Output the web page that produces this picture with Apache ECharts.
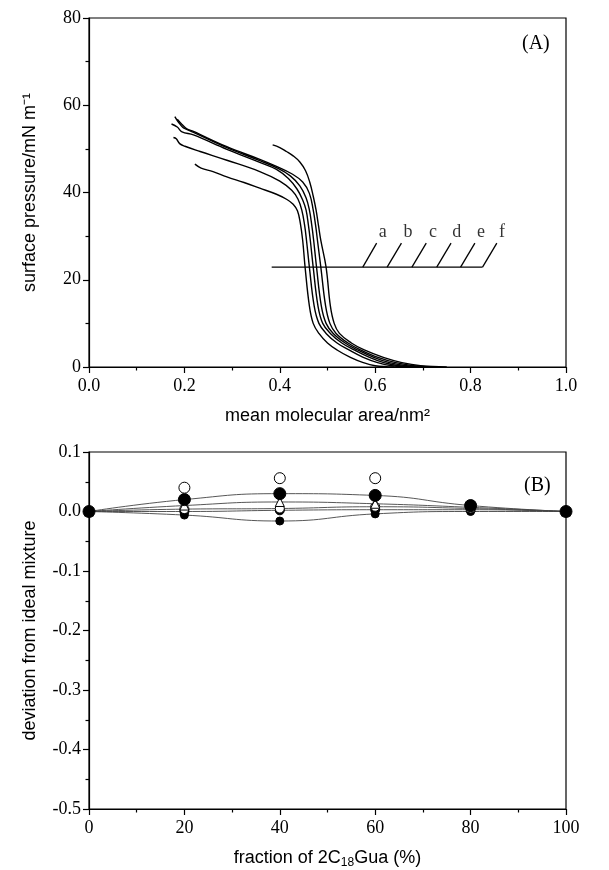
<!DOCTYPE html>
<html><head><meta charset="utf-8">
<script src="https://cdn.jsdelivr.net/npm/echarts@6/dist/echarts.min.js"></script>
<style>html,body{margin:0;padding:0;background:#fff}#c{width:609px;height:870px}</style>
</head><body><div id="c"></div>
<script>
// ---------- Panel A: isotherms (area nm^2, pressure mN/m) ----------
const curveA = [[0.222,46.5],[0.235,45.6],[0.26,44.8],[0.289,43.6],[0.325,42.3],[0.358,41.0],[0.393,39.6],[0.415,38.4],[0.428,37.3],[0.437,35.8],[0.443,33.0],[0.448,29.0],[0.453,22.9],[0.462,14],[0.470,10],[0.482,7.7],[0.500,5.5],[0.520,3.9],[0.548,2.2],[0.575,1.0],[0.60,0.3],[0.64,0]];
const curveB = [[0.177,52.6],[0.183,52.3],[0.190,51.2],[0.201,50.6],[0.233,49.4],[0.289,47.4],[0.358,44.8],[0.400,42.6],[0.425,40.5],[0.438,38.5],[0.446,36],[0.452,32.5],[0.456,29],[0.462,22.9],[0.472,14],[0.482,10],[0.497,7.7],[0.520,5.5],[0.545,3.9],[0.575,2.2],[0.605,1.0],[0.635,0.3],[0.68,0]];
const curveC = [[0.173,55.7],[0.185,55.0],[0.195,53.9],[0.219,53.2],[0.289,49.9],[0.358,46.9],[0.393,45.3],[0.418,43.2],[0.436,40.8],[0.448,38.3],[0.455,36],[0.460,32.5],[0.464,29],[0.470,22.9],[0.480,14],[0.490,10],[0.506,7.7],[0.530,5.5],[0.556,3.9],[0.588,2.2],[0.618,1.0],[0.65,0.3],[0.70,0]];
const curveD = [[0.180,57.4],[0.185,56.5],[0.192,55.5],[0.198,54.8],[0.219,53.8],[0.289,50.3],[0.358,47.3],[0.393,45.7],[0.422,43.8],[0.442,41.5],[0.455,38.8],[0.462,36],[0.467,32.5],[0.471,29],[0.477,22.9],[0.487,14],[0.497,10],[0.512,7.7],[0.537,5.5],[0.563,3.9],[0.597,2.2],[0.63,1.0],[0.665,0.3],[0.71,0]];
const curveE = [[0.185,56.8],[0.195,55.6],[0.205,54.6],[0.219,54.0],[0.289,50.5],[0.358,47.6],[0.393,46.0],[0.425,44.3],[0.448,42.4],[0.462,39.8],[0.470,36],[0.475,32.5],[0.479,29],[0.486,22.9],[0.496,14],[0.505,10],[0.518,7.7],[0.543,5.5],[0.570,3.9],[0.606,2.2],[0.643,1.0],[0.68,0.3],[0.73,0]];
const curveF = [[0.385,50.9],[0.400,50.3],[0.414,49.4],[0.428,48.4],[0.442,47.0],[0.454,45.0],[0.463,42.3],[0.470,39.2],[0.476,36],[0.481,32.5],[0.486,29],[0.497,22.9],[0.506,14],[0.514,10],[0.525,7.7],[0.550,5.5],[0.577,3.9],[0.617,2.2],[0.656,1.0],[0.695,0.3],[0.75,0]];
const isotherms = [curveA, curveB, curveC, curveD, curveE, curveF];

// curve labels and leader lines
const labelNames = ['a','b','c','d','e','f'];
const labelX = [0.616,0.669,0.721,0.771,0.822,0.866];
const labelY = [30.9,30.9,30.9,30.9,30.9,30.9];
const leaderBaseX = [0.574,0.625,0.677,0.729,0.779,0.825];
const leaderTopX  = [0.603,0.655,0.707,0.759,0.809,0.855];
const leaderBaseY = 22.9, leaderTopY = 28.4;
const baselineX = [0.383, 0.825];

// ---------- Panel B: deviation from ideal mixture ----------
const fraction = [0,20,40,60,80,100];
const devFilledLarge = [0,0.020,0.030,0.027,0.010,0];
const devTriangle    = [0,0.010,0.016,0.013,0.007,0];
const devOpenSmall   = [0,0.004,0.005,0.008,0.005,0];
const devFilledMid   = [0,0.000,0.002,0.003,0.003,0];
const devFilledSmall = [0,-0.006,-0.016,-0.004,0.000,0];
const devOpenLarge   = [null,0.040,0.056,0.056,null,null];

const serif = 'Liberation Serif';
const sans = 'Liberation Sans';

const GA = {left:89, top:18, width:477, height:349};
const GB = {left:89, top:452, width:477, height:374};

function baseAxis(extra){
  return Object.assign({
    axisLine:{show:true, onZero:false, lineStyle:{color:'#000', width:1.2}},
    axisTick:{show:true, inside:false, length:6, lineStyle:{color:'#000', width:1.2}},
    minorTick:{show:true, splitNumber:2, length:3.5, lineStyle:{color:'#000', width:1.2}},
    splitLine:{show:false},
    axisLabel:{color:'#000', fontFamily:serif, fontSize:18},
    nameTextStyle:{color:'#000', fontFamily:sans, fontSize:18}
  }, extra);
}

const series = [];
isotherms.forEach((c,i)=>{
  series.push({type:'line', xAxisIndex:0, yAxisIndex:0, data:c, smooth:0.4, showSymbol:false,
    lineStyle:{color:'#000', width:1.4}, silent:true, z:3});
});
series.push({type:'line', xAxisIndex:0, yAxisIndex:0, data:baselineX.map(x=>[x,leaderBaseY]),
  showSymbol:false, lineStyle:{color:'#000', width:1.3}});
leaderBaseX.forEach((x,i)=>{
  series.push({type:'line', xAxisIndex:0, yAxisIndex:0, data:[[x,leaderBaseY],[leaderTopX[i],leaderTopY]],
    showSymbol:false, lineStyle:{color:'#000', width:1.3}});
});
series.push({type:'scatter', xAxisIndex:0, yAxisIndex:0, symbolSize:0,
  data:labelNames.map((n,i)=>({name:n, value:[labelX[i],labelY[i]]})),
  label:{show:true, position:'inside', formatter:p=>p.name, color:'#000', fontFamily:serif, fontSize:18}});

function bLine(vals, sym, size, filled, showLine, z){
  return {type:'line', xAxisIndex:1, yAxisIndex:1, data:fraction.map((f,i)=>[f,vals[i]]),
    smooth:true, symbol:sym, symbolSize:size, showSymbol:true, connectNulls:false,
    lineStyle:{color:'#444', width:showLine?0.9:0, opacity:showLine?1:0},
    itemStyle:{color: filled?'#000':'#fff', borderColor:'#000', borderWidth:1, opacity:1}, z:z};
}
series.push(bLine(devFilledSmall,'circle',8,true,true,3));
series.push(bLine(devFilledMid,'circle',9,true,true,3));
series.push(bLine(devOpenSmall,'circle',9,false,true,4));
series.push(bLine(devTriangle,'triangle',9,false,true,4));
series.push(bLine(devFilledLarge,'circle',12,true,true,5));
series.push(bLine(devOpenLarge,'circle',11,false,false,5));

const option = {
  animation:false,
  backgroundColor:'#fff',
  grid:[Object.assign({show:true, borderColor:'#000', borderWidth:1.2, backgroundColor:'transparent'}, GA),
        Object.assign({show:true, borderColor:'#000', borderWidth:1.2, backgroundColor:'transparent'}, GB)],
  xAxis:[
    baseAxis({type:'value', gridIndex:0, min:0, max:1, interval:0.2,
      axisLabel:{color:'#000', fontFamily:serif, fontSize:18, margin:10, formatter:v=>v.toFixed(1)},
      name:'mean molecular area/nm²', nameLocation:'middle', nameGap:40}),
    baseAxis({type:'value', gridIndex:1, min:0, max:100, interval:20,
      axisLabel:{color:'#000', fontFamily:serif, fontSize:18, margin:10},
      name:'fraction of 2C{s|18}Gua (%)', nameLocation:'middle', nameGap:38,
      nameTextStyle:{color:'#000', fontFamily:sans, fontSize:18,
        rich:{s:{fontFamily:sans, fontSize:12, padding:[10,0,0,0]}}}})
  ],
  yAxis:[
    baseAxis({type:'value', gridIndex:0, min:0, max:80, interval:20,
      axisLabel:{color:'#000', fontFamily:serif, fontSize:18, margin:8},
      name:'surface pressure/mN m⁻¹', nameLocation:'middle', nameGap:50}),
    baseAxis({type:'value', gridIndex:1, min:-0.5, max:0.1, interval:0.1,
      axisLabel:{color:'#000', fontFamily:serif, fontSize:18, margin:8, formatter:v=>v.toFixed(1)},
      name:'deviation from ideal mixture', nameLocation:'middle', nameGap:50})
  ],
  graphic:[
    {type:'text', left:522, top:34, style:{text:'(A)', fontFamily:serif, fontSize:20, fill:'#000'}},
    {type:'text', left:524, top:476, style:{text:'(B)', fontFamily:serif, fontSize:20, fill:'#000'}}
  ],
  series:series
};
const chart = echarts.init(document.getElementById('c'), null, {renderer:'canvas'});
chart.setOption(option);
</script></body></html>
